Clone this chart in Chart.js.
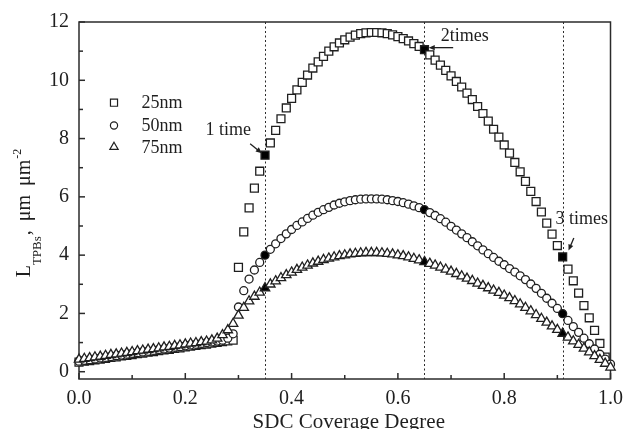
<!DOCTYPE html>
<html>
<head>
<meta charset="utf-8">
<script src="https://cdn.jsdelivr.net/npm/chart.js@4.4.1/dist/chart.umd.min.js"></script>
<style>
  html, body { margin: 0; padding: 0; background: #fff; }
  canvas { display: block; }
</style>
</head>
<body>
<canvas id="tpb" width="631" height="429"></canvas>
<script>
// SDC coverage degree (x) for every computed point
const coverage = [
  0.00, 0.01, 0.02, 0.03, 0.04, 0.05, 0.06, 0.07, 0.08, 0.09,
  0.10, 0.11, 0.12, 0.13, 0.14, 0.15, 0.16, 0.17, 0.18, 0.19,
  0.20, 0.21, 0.22, 0.23, 0.24, 0.25, 0.26, 0.27, 0.28, 0.29,
  0.30, 0.31, 0.32, 0.33, 0.34, 0.35, 0.36, 0.37, 0.38, 0.39,
  0.40, 0.41, 0.42, 0.43, 0.44, 0.45, 0.46, 0.47, 0.48, 0.49,
  0.50, 0.51, 0.52, 0.53, 0.54, 0.55, 0.56, 0.57, 0.58, 0.59,
  0.60, 0.61, 0.62, 0.63, 0.64, 0.65, 0.66, 0.67, 0.68, 0.69,
  0.70, 0.71, 0.72, 0.73, 0.74, 0.75, 0.76, 0.77, 0.78, 0.79,
  0.80, 0.81, 0.82, 0.83, 0.84, 0.85, 0.86, 0.87, 0.88, 0.89,
  0.90, 0.91, 0.92, 0.93, 0.94, 0.95, 0.96, 0.97, 0.98, 0.99,
  1.00
];

// TPB length (um per um^2) for the three particle sizes
const len25nm = [
  0.33, 0.36, 0.38, 0.41, 0.43, 0.46, 0.49, 0.51, 0.54, 0.56,
  0.59, 0.62, 0.64, 0.67, 0.69, 0.72, 0.75, 0.77, 0.80, 0.82,
  0.85, 0.88, 0.90, 0.93, 0.95, 0.98, 1.01, 1.03, 1.06, 1.08,
  3.58, 4.80, 5.62, 6.30, 6.88, 7.43, 7.85, 8.28, 8.68, 9.05,
  9.38, 9.67, 9.93, 10.18, 10.42, 10.63, 10.82, 11.00, 11.15, 11.28,
  11.39, 11.48, 11.55, 11.60, 11.63, 11.64, 11.64, 11.63, 11.60, 11.56,
  11.50, 11.43, 11.35, 11.26, 11.16, 11.05, 10.87, 10.69, 10.52, 10.34,
  10.15, 9.96, 9.77, 9.56, 9.34, 9.10, 8.86, 8.60, 8.32, 8.05,
  7.78, 7.50, 7.18, 6.86, 6.53, 6.19, 5.84, 5.48, 5.10, 4.72,
  4.33, 3.94, 3.52, 3.12, 2.70, 2.27, 1.85, 1.42, 0.97, 0.50,
  null
];

const len50nm = [
  0.36, 0.39, 0.41, 0.44, 0.47, 0.49, 0.52, 0.55, 0.57, 0.60,
  0.63, 0.65, 0.68, 0.70, 0.73, 0.76, 0.78, 0.81, 0.84, 0.86,
  0.89, 0.92, 0.94, 0.97, 1.00, 1.02, 1.05, 1.08, 1.15, 1.30,
  2.22, 2.78, 3.18, 3.49, 3.75, 4.00, 4.20, 4.39, 4.57, 4.73,
  4.88, 5.02, 5.14, 5.26, 5.37, 5.47, 5.56, 5.64, 5.72, 5.78,
  5.83, 5.87, 5.90, 5.92, 5.93, 5.93, 5.93, 5.92, 5.90, 5.87,
  5.84, 5.80, 5.75, 5.69, 5.63, 5.56, 5.46, 5.36, 5.25, 5.13,
  4.99, 4.86, 4.73, 4.60, 4.46, 4.32, 4.18, 4.05, 3.92, 3.79,
  3.67, 3.54, 3.42, 3.29, 3.16, 3.01, 2.86, 2.69, 2.52, 2.35,
  2.17, 1.99, 1.76, 1.55, 1.35, 1.15, 0.96, 0.78, 0.60, 0.43,
  0.26
];

const len75nm = [
  0.42, 0.45, 0.47, 0.50, 0.52, 0.55, 0.58, 0.60, 0.63, 0.65,
  0.68, 0.71, 0.73, 0.76, 0.78, 0.81, 0.84, 0.86, 0.89, 0.91,
  0.94, 0.97, 0.99, 1.02, 1.04, 1.08, 1.14, 1.26, 1.43, 1.65,
  1.93, 2.20, 2.42, 2.58, 2.72, 2.87, 3.00, 3.11, 3.22, 3.32,
  3.41, 3.50, 3.58, 3.65, 3.72, 3.78, 3.84, 3.89, 3.93, 3.97,
  4.00, 4.03, 4.05, 4.07, 4.08, 4.08, 4.08, 4.07, 4.05, 4.03,
  4.00, 3.97, 3.93, 3.88, 3.83, 3.77, 3.71, 3.65, 3.58, 3.51,
  3.44, 3.36, 3.28, 3.20, 3.12, 3.03, 2.95, 2.87, 2.79, 2.71,
  2.62, 2.53, 2.43, 2.32, 2.20, 2.08, 1.95, 1.82, 1.69, 1.56,
  1.44, 1.31, 1.18, 1.05, 0.93, 0.80, 0.67, 0.54, 0.41, 0.28,
  0.15
];

const seriesNames = ['25nm', '50nm', '75nm'];
const seriesValues = [len25nm, len50nm, len75nm];
const seriesMarkers = ['rect', 'circle', 'triangle'];

// coverage levels reached after 1, 2 and 3 impregnations
const markedCoverage = [0.35, 0.65, 0.91];

const xTickValues = [0.0, 0.2, 0.4, 0.6, 0.8, 1.0];
const xMinorTicks = [0.1, 0.3, 0.5, 0.7, 0.9];
const yTickValues = [0, 2, 4, 6, 8, 10, 12];
const yMinorTicks = [1, 3, 5, 7, 9, 11];

// callout labels with their arrows, in data coordinates
const callouts = [
  { text: '1 time',  at: [0.281, 8.30],  from: [0.322, 7.82], to: [0.344, 7.50] },
  { text: '2times',  at: [0.726, 11.52], from: [0.704, 11.12], to: [0.658, 11.12] },
  { text: '3 times', at: [0.946, 5.23],  from: [0.931, 4.59], to: [0.921, 4.16] }
];

const INK = '#1f1f1f';
const SERIF = '"Liberation Serif", "Times New Roman", serif';
const markerRadius = { rect: 5.6, circle: 4.0, triangle: 5.4 };

function isMarked(x) {
  return markedCoverage.some(m => Math.abs(m - x) < 1e-6);
}

const datasets = seriesNames.map((name, i) => ({
  label: name,
  data: coverage.map((c, k) => ({ x: c, y: seriesValues[i][k] })),
  pointStyle: seriesMarkers[i],
  pointRadius: markerRadius[seriesMarkers[i]],
  pointBorderWidth: 1.3,
  pointBorderColor: INK,
  pointBackgroundColor: ctx => (ctx.raw && isMarked(ctx.raw.x)) ? '#000' : '#fff',
  showLine: false,
  clip: false,
  order: 3 - i
}));

function drawMarker(ctx, style, x, y, r) {
  ctx.beginPath();
  if (style === 'rect') {
    const h = r * Math.SQRT1_2;
    ctx.rect(x - h, y - h, 2 * h, 2 * h);
  } else if (style === 'circle') {
    ctx.arc(x, y, r, 0, Math.PI * 2);
  } else {
    const a = Math.PI / 6;
    ctx.moveTo(x, y - r);
    ctx.lineTo(x + r * Math.cos(a), y + r * Math.sin(a));
    ctx.lineTo(x - r * Math.cos(a), y + r * Math.sin(a));
    ctx.closePath();
  }
  ctx.fill();
  ctx.stroke();
}

function drawArrow(ctx, x0, y0, x1, y1) {
  const ang = Math.atan2(y1 - y0, x1 - x0);
  const len = 6, half = 2.6;
  ctx.beginPath();
  ctx.moveTo(x0, y0);
  ctx.lineTo(x1 - Math.cos(ang) * len * 0.6, y1 - Math.sin(ang) * len * 0.6);
  ctx.stroke();
  ctx.beginPath();
  ctx.moveTo(x1, y1);
  ctx.lineTo(x1 - Math.cos(ang) * len - Math.sin(ang) * half, y1 - Math.sin(ang) * len + Math.cos(ang) * half);
  ctx.lineTo(x1 - Math.cos(ang) * len + Math.sin(ang) * half, y1 - Math.sin(ang) * len - Math.cos(ang) * half);
  ctx.closePath();
  ctx.fill();
}

// frame, inward ticks and the dotted coverage guides
const framePlugin = {
  id: 'frame',
  beforeDatasetsDraw(chart) {
    const { ctx, chartArea: a, scales: { x, y } } = chart;
    ctx.save();
    ctx.strokeStyle = '#2b2b2b';
    ctx.lineWidth = 1;
    ctx.setLineDash([2, 2.5]);
    markedCoverage.forEach(m => {
      const px = Math.round(x.getPixelForValue(m)) + 0.5;
      ctx.beginPath();
      ctx.moveTo(px, a.top);
      ctx.lineTo(px, a.bottom);
      ctx.stroke();
    });
    ctx.setLineDash([]);
    ctx.lineWidth = 1.5;
    ctx.strokeStyle = '#2b2b2b';
    ctx.strokeRect(a.left, a.top, a.right - a.left, a.bottom - a.top);
    const tick = (px, len, vertical) => {
      ctx.beginPath();
      if (vertical) { ctx.moveTo(px, a.bottom); ctx.lineTo(px, a.bottom - len); }
      else { ctx.moveTo(a.left, px); ctx.lineTo(a.left + len, px); }
      ctx.stroke();
    };
    xTickValues.forEach(v => tick(x.getPixelForValue(v), 6, true));
    xMinorTicks.forEach(v => tick(x.getPixelForValue(v), 4, true));
    yTickValues.forEach(v => tick(y.getPixelForValue(v), 6, false));
    yMinorTicks.forEach(v => tick(y.getPixelForValue(v), 4, false));
    ctx.restore();
  },
  afterDraw(chart) {
    const { ctx, chartArea: a, scales: { x, y } } = chart;
    ctx.save();
    ctx.fillStyle = INK;
    ctx.strokeStyle = INK;

    // legend
    ctx.lineWidth = 1.2;
    const legendX = 114, legendY = [102.7, 125.5, 147];
    const legendRadius = { rect: 5.0, circle: 3.6, triangle: 4.8 };
    seriesNames.forEach((name, i) => {
      ctx.fillStyle = '#fff';
      drawMarker(ctx, seriesMarkers[i], legendX, legendY[i], legendRadius[seriesMarkers[i]]);
      ctx.fillStyle = INK;
      ctx.font = '18px ' + SERIF;
      ctx.textAlign = 'left';
      ctx.textBaseline = 'middle';
      ctx.fillText(name, 141.5, legendY[i] + 1);
    });

    // callouts
    ctx.font = '18px ' + SERIF;
    ctx.textAlign = 'center';
    ctx.textBaseline = 'middle';
    ctx.lineWidth = 1.3;
    callouts.forEach(c => {
      ctx.fillText(c.text, x.getPixelForValue(c.at[0]), y.getPixelForValue(c.at[1]));
      drawArrow(ctx,
        x.getPixelForValue(c.from[0]), y.getPixelForValue(c.from[1]),
        x.getPixelForValue(c.to[0]), y.getPixelForValue(c.to[1]));
    });

    // x axis title
    ctx.font = '21px ' + SERIF;
    ctx.textAlign = 'center';
    ctx.textBaseline = 'alphabetic';
    ctx.fillText('SDC Coverage Degree', (a.left + a.right) / 2 + 4, 427.5);

    // y axis title: L_TPBs, um um^-2
    ctx.translate(30, 213);
    ctx.rotate(-Math.PI / 2);
    const pieces = [
      { t: 'L', size: 20, dy: 0, gap: 0 },
      { t: 'TPBs', size: 13, dy: 11, gap: 0 },
      { t: ',', size: 20, dy: 0, gap: 1 },
      { t: 'μm', size: 20, dy: 0, gap: 9 },
      { t: 'μm', size: 20, dy: 0, gap: 9 },
      { t: '-2', size: 12, dy: -9, gap: 1 }
    ];
    let total = 0;
    pieces.forEach(p => {
      ctx.font = p.size + 'px ' + SERIF;
      p.w = ctx.measureText(p.t).width;
      total += p.gap + p.w;
    });
    let cx = -total / 2;
    ctx.textAlign = 'left';
    pieces.forEach(p => {
      cx += p.gap;
      ctx.font = p.size + 'px ' + SERIF;
      ctx.fillText(p.t, cx, p.dy);
      cx += p.w;
    });
    ctx.restore();
  }
};

new Chart(document.getElementById('tpb'), {
  type: 'scatter',
  data: { datasets },
  options: {
    responsive: false,
    animation: false,
    events: [],
    layout: { padding: { top: 19, right: 15, left: 0, bottom: 0 } },
    plugins: { legend: { display: false }, tooltip: { enabled: false } },
    scales: {
      x: {
        type: 'linear',
        min: 0,
        max: 1,
        afterBuildTicks: s => { s.ticks = xTickValues.map(v => ({ value: v })); },
        afterFit: s => { s.height = 50; },
        grid: { display: false, drawTicks: false },
        border: { display: false },
        ticks: {
          padding: 8,
          color: INK,
          font: { family: SERIF, size: 20 },
          callback: v => Number(v).toFixed(1),
          maxRotation: 0
        }
      },
      y: {
        type: 'linear',
        min: -0.25,
        max: 12,
        afterBuildTicks: s => { s.ticks = yTickValues.map(v => ({ value: v })); },
        afterFit: s => { s.width = 79; },
        grid: { display: false, drawTicks: false },
        border: { display: false },
        ticks: {
          padding: 10,
          color: INK,
          font: { family: SERIF, size: 20 },
          callback: v => String(v)
        }
      }
    }
  },
  plugins: [framePlugin]
});
</script>
</body>
</html>
